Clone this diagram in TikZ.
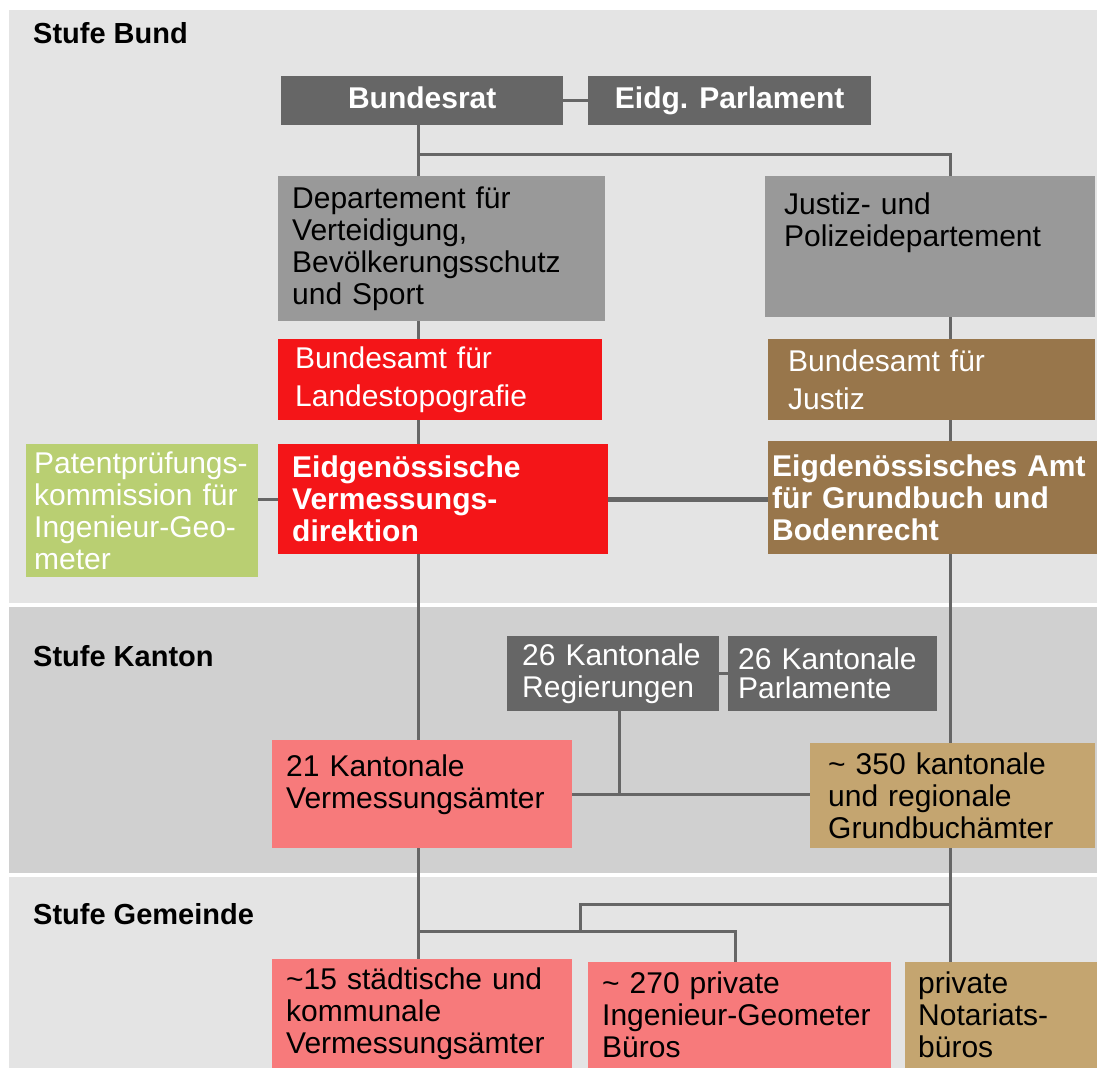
\documentclass[tikz,border=0pt]{standalone}
\usepackage{fontspec}
\setmainfont{Liberation Sans}
\usetikzlibrary{calc}

\definecolor{dunkelgrau}{HTML}{666666}
\definecolor{mittelgrau}{HTML}{999999}
\definecolor{bundrot}{HTML}{F41518}
\definecolor{lachs}{HTML}{F77A7B}
\definecolor{braun}{HTML}{98764B}
\definecolor{sand}{HTML}{C4A570}
\definecolor{gruen}{HTML}{B9CF72}
\definecolor{bandhell}{HTML}{E4E4E4}
\definecolor{banddunkel}{HTML}{D0D0D0}

\begin{document}
\begin{tikzpicture}[x=1pt,y=-1pt,
	org/.style={anchor=north west, inner ysep=0pt, align=left, font=\fontsize{30}{32}\selectfont},
	fett/.style={font=\fontsize{30}{32}\selectfont\bfseries},
	spitze/.style={anchor=north west, inner sep=0pt, fill=dunkelgrau, text=white, text height=22pt, text depth=6pt, minimum height=49pt, font=\fontsize{30}{32}\selectfont\bfseries},
	stufe/.style={anchor=west, inner sep=0pt, font=\fontsize{29}{32}\selectfont\bfseries},
	verbindung/.style={draw=dunkelgrau, line width=3pt}]
	\useasboundingbox (0,0) rectangle (1097,1068);
	
	%bands
	\fill[white] (0,0) rectangle (1097,1068);
	\fill[bandhell] (9,10) rectangle (1097,603);
	\fill[banddunkel] (9,607) rectangle (1097,873);
	\fill[bandhell] (9,877) rectangle (1097,1068);
	
	\node[stufe] (bund) at (33,33) {Stufe Bund};
	\node[stufe] (kanton) at (33,656) {Stufe Kanton};
	\node[stufe] (gemeinde) at (33,914) {Stufe Gemeinde};
	
	%nodes
	\node[spitze, minimum width=282pt] (bundesrat) at (281,76) {Bundesrat};
	\node[spitze, minimum width=283pt] (parlament) at (588,76) {Eidg. Parlament};
	
	\node[org, fill=mittelgrau, inner xsep=14pt, text width=299pt, minimum height=145pt] (vbs) at (278,176) {Departement für\\Verteidigung,\\Bevölkerungsschutz\\und Sport};
	\node[org, fill=mittelgrau, inner xsep=19pt, text width=292pt, minimum height=141pt, text depth=86pt] (justiz) at (765,176) {Justiz- und\\Polizeidepartement};
	
	\node[org, fill=bundrot, text=white, inner xsep=17pt, text width=290pt, minimum height=81pt, font=\fontsize{30}{38}\selectfont] (topo) at (278,339) {Bundesamt für\\Landestopografie};
	\node[org, fill=braun, text=white, inner xsep=20pt, text width=287pt, minimum height=81pt, font=\fontsize{30}{38}\selectfont] (bfj) at (768,339) {Bundesamt für\\Justiz};
	
	\node[org, fett, fill=bundrot, text=white, inner xsep=14pt, text width=302pt, minimum height=110pt] (vermdir) at (278,444) {Eidgenössische\\Vermessungs-\\direktion};
	\node[org, fett, fill=braun, text=white, inner xsep=4pt, text width=321pt, minimum height=113pt] (amt) at (768,441) {Eigdenössisches Amt\\für Grundbuch und\\Bodenrecht};
	\node[org, fill=gruen, text=white, inner xsep=8pt, text width=216pt, minimum height=133pt] (patent) at (26,444) {Patentprüfungs-\\kommission für\\Ingenieur-Geo-\\meter};
	
	\node[org, fill=dunkelgrau, text=white, inner xsep=15pt, text width=182pt, minimum height=75pt] (regierungen) at (507,636) {26 Kantonale\\Regierungen};
	\node[org, fill=dunkelgrau, text=white, inner xsep=10pt, text width=189pt, minimum height=75pt, font=\fontsize{30}{29}\selectfont] (parlamente) at (728,636) {26 Kantonale\\Parlamente};
	\node[org, fill=lachs, inner xsep=14pt, text width=272pt, minimum height=108pt, text depth=58pt] (kantverm) at (272,740) {21 Kantonale\\Vermessungsämter};
	\node[org, fill=sand, inner xsep=18pt, text width=249pt, minimum height=105pt] (grundbuch) at (810,743) {\textasciitilde{} 350 kantonale\\und regionale\\Grundbuchämter};
	
	\node[org, fill=lachs, inner xsep=14pt, text width=272pt, minimum height=109pt] (staedtisch) at (272,959) {\textasciitilde15 städtische und\\kommunale\\Vermessungsämter};
	\node[org, fill=lachs, inner xsep=14pt, text width=275pt, minimum height=106pt] (privat) at (588,962) {\textasciitilde{} 270 private\\Ingenieur-Geometer\\Büros};
	\node[org, fill=sand, inner xsep=13pt, text width=166pt, minimum height=106pt] (notariat) at (905,962) {private\\Notariats-\\büros};
	
	%axes of the lines
	\coordinate (links) at (418,0);
	\coordinate (rechts) at (950,0);
	\coordinate (mitte) at (619,0);
	\coordinate (privatachse) at (735,0);
	\coordinate (gabelbund) at (418,154);
	\coordinate (gabelgemeinde) at (418,931);
	\coordinate (gabelnotar) at (950,904);
	\coordinate (gabelprivat) at (580,931);
	
	%lines
	\draw[verbindung] (bundesrat) -- (parlament);
	\draw[verbindung] (bundesrat.south -| links) -- (vbs.north -| links);
	\draw[verbindung] (gabelbund) -| (justiz.north -| rechts);
	\draw[verbindung] (vbs.south -| links) -- (topo.north -| links);		%vbs--topo
	\draw[verbindung] (topo.south -| links) -- (vermdir.north -| links);	%topo--vermdir
	\draw[verbindung] (vermdir.south -| links) -- (kantverm.north -| links);	%vermdir--kantverm
	\draw[verbindung] (kantverm.south -| links) -- (staedtisch.north -| links);	%kantverm--staedtisch
	\draw[verbindung] (justiz.south -| rechts) -- (bfj.north -| rechts);	%justiz--bfj
	\draw[verbindung] (bfj.south -| rechts) -- (amt.north -| rechts);		%bfj--amt
	\draw[verbindung] (amt.south -| rechts) -- (grundbuch.north -| rechts);	%amt--grundbuch
	\draw[verbindung] (grundbuch.south -| rechts) -- (notariat.north -| rechts);	%grundbuch--notariat
	\draw[verbindung] (vermdir.west) -- (vermdir.west -| patent.east);		%patent--vermdir
	\draw[verbindung, line width=5pt] (vermdir.east) -- (vermdir.east -| amt.west);	%vermdir--amt
	\draw[verbindung] (regierungen) -- (parlamente);
	\draw[verbindung] (kantverm.east) -- (kantverm.east -| grundbuch.west);
	\draw[verbindung] (regierungen.south -| mitte) -- (kantverm.east -| mitte);
	\draw[verbindung] (gabelgemeinde) -| (privat.north -| privatachse);
	\draw[verbindung] (gabelnotar) -| (gabelprivat);
	
\end{tikzpicture}
\end{document}
